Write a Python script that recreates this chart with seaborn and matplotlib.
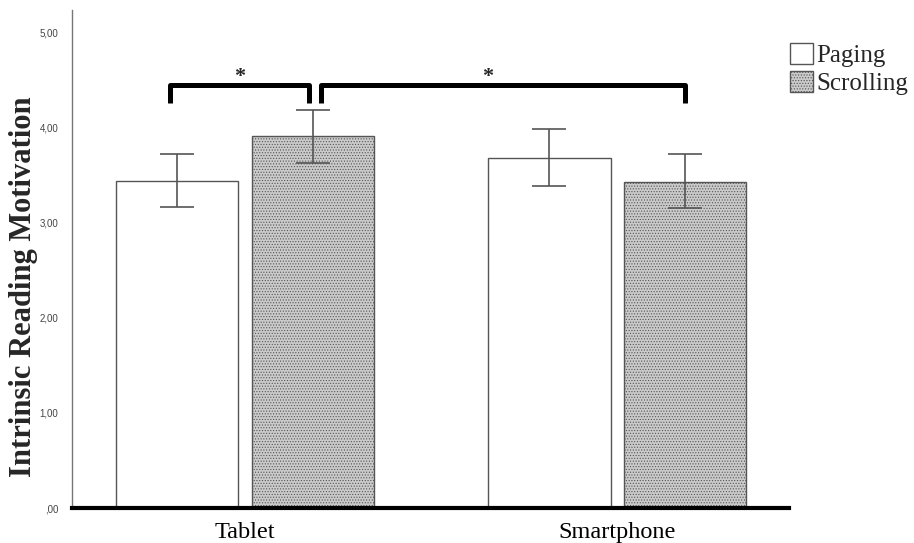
import matplotlib
matplotlib.use("Agg")
import matplotlib.pyplot as plt
import seaborn as sns
import pandas as pd
from matplotlib.patches import Patch

devices = ["Tablet", "Smartphone"]
modes = ["Paging", "Scrolling"]
means = {"Paging": [3.44, 3.68], "Scrolling": [3.91, 3.43]}
err_low = {"Paging": [3.17, 3.39], "Scrolling": [3.63, 3.16]}
err_high = {"Paging": [3.72, 3.99], "Scrolling": [4.19, 3.72]}
ytick_vals = [0, 1, 2, 3, 4, 5]
ytick_labels = [",00", "1,00", "2,00", "3,00", "4,00", "5,00"]

rows = []
for m in modes:
    for i, d in enumerate(devices):
        rows.append({"Device": d, "Mode": m, "Value": means[m][i]})
df = pd.DataFrame(rows)

sns.set_theme(style="white")
plt.rcParams["hatch.linewidth"] = 0.5
SCROLL_FC = "#cacaca"
HATCH = "......"

fig = plt.figure(figsize=(9.14, 5.43), dpi=100)
ax = fig.add_axes([72/914, 1-508/543, (789-72)/914, (508-10)/543])

sns.barplot(data=df, x="Device", y="Value", hue="Mode", order=devices,
            hue_order=modes, palette=["white", SCROLL_FC], width=0.73,
            gap=0.096, edgecolor="#555555", linewidth=1.0, errorbar=None, ax=ax,
            legend=False)

centers = {}
for m, cont in zip(modes, ax.containers):
    for i, p in enumerate(cont.patches):
        cx = p.get_x() + p.get_width() / 2
        centers[(m, i)] = cx
        if m == "Scrolling":
            p.set_hatch(HATCH)
        y = means[m][i]
        ax.errorbar(cx, y, yerr=[[y - err_low[m][i]], [err_high[m][i] - y]],
                    fmt="none", ecolor="#555555", elinewidth=1.2,
                    capsize=12, capthick=1.2, zorder=5)

ax.set_xlim(-0.465, 1.462)
ax.set_ylim(0, 5.24)
ax.set_yticks(ytick_vals)
ax.set_yticklabels(ytick_labels, fontsize=7, color="#444444", family="Liberation Sans")
ax.tick_params(axis="y", length=0, pad=10)
ax.tick_params(axis="x", length=0, pad=10)
for lab in ax.get_xticklabels():
    lab.set_family("Liberation Serif")
    lab.set_fontsize(17.5)
    lab.set_color("black")
ax.set_xlabel("")
ax.set_ylabel("Intrinsic Reading Motivation", family="Liberation Serif",
              fontweight="bold", fontsize=22)
ax.yaxis.set_label_coords(-0.047, 0.444)

for s in ["top", "right"]:
    ax.spines[s].set_visible(False)
ax.spines["left"].set_color("#777777")
ax.spines["left"].set_linewidth(1.0)
ax.spines["bottom"].set_color("black")
ax.spines["bottom"].set_linewidth(3.0)

# significance brackets
yb, yt = 4.26, 4.45
def bracket(x1, x2, star_x):
    ax.plot([x1, x1, x2, x2], [yb, yt, yt, yb], color="black", lw=3.6,
            solid_joinstyle="round", solid_capstyle="butt", zorder=6)
    ax.text(star_x, yt + 0.09, "*", ha="center", va="center", fontsize=16,
            fontweight="bold", family="Liberation Serif")

tp, ts = centers[("Paging", 0)], centers[("Scrolling", 0)]
sp, ss = centers[("Paging", 1)], centers[("Scrolling", 1)]
bracket(tp - 0.018, ts - 0.01, tp + 0.46 * (ts - tp))
bracket(ts + 0.022, ss, ts + 0.47 * (ss - ts))

# legend
handles = [Patch(facecolor="white", edgecolor="#555555", label="Paging"),
           Patch(facecolor=SCROLL_FC, edgecolor="#555555", hatch=HATCH, label="Scrolling")]
leg = fig.legend(handles=handles, loc="upper left", bbox_to_anchor=(790/914, 1-43/543),
                 frameon=False, prop={"family": "Liberation Serif", "size": 18},
                 handlelength=0.9, handleheight=0.9, handletextpad=0.15,
                 labelspacing=0.15, borderpad=0, borderaxespad=0)

fig.savefig("out.png", dpi=100)
